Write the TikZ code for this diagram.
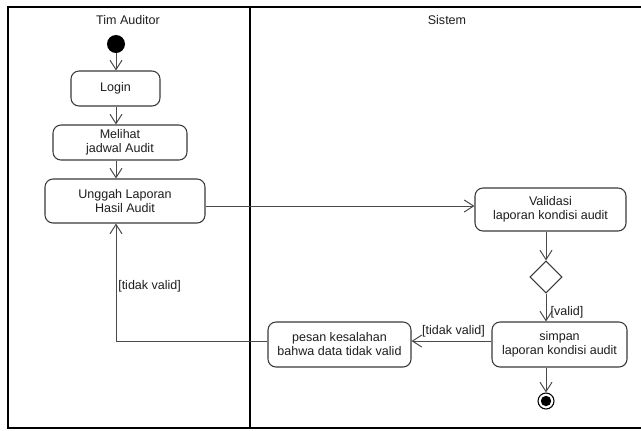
\documentclass[tikz,border=0pt]{standalone}
\usepackage{fontspec}
\setmainfont{Liberation Sans}
\usetikzlibrary{arrows.meta,shapes.geometric}
\definecolor{boxgray}{HTML}{3A3A3A}
\definecolor{linegray}{HTML}{4A4A4A}
\definecolor{txt}{HTML}{1E1E1E}
\begin{document}
\begin{tikzpicture}[x=0.75pt,y=-0.75pt,
  font=\fontsize{9.4}{10.5}\selectfont,
  lane/.style={draw=black, line width=0.9pt},
  act/.style={draw=boxgray, rounded corners=6pt, line width=0.8pt,
    align=center, inner sep=0pt, text=txt},
  flow/.style={draw=linegray, line width=0.75pt,
    -{Straight Barb[length=7pt,width=9pt]}},
  guard/.style={text=txt, inner sep=0pt},
  startnode/.style={circle, fill=black, minimum size=13.5pt, inner sep=0pt},
  endnode/.style={circle, draw=black, line width=0.8pt, minimum size=12pt, inner sep=0pt},
  choice/.style={diamond, draw=boxgray, line width=0.8pt, minimum width=24pt,
    minimum height=24pt, inner sep=0pt, aspect=1}
]
\useasboundingbox (0,0) rectangle (641,430);
\fill[white] (0,0) rectangle (641,430);

% swimlanes
\draw[lane] (641,7) -- (8,7) -- (8,428) -- (641,428);
\draw[lane] (250,7) -- (250,428);
\node[text=txt] (laneA) at (128,20) {Tim Auditor};
\node[text=txt] (laneB) at (447,20) {Sistem};

% activities
\node[startnode] (init) at (116,44) {};
\node[act, minimum width=66.75pt, minimum height=26.25pt] (login) at (115.5,88.5) {Login};
\node[act, minimum width=100.5pt, minimum height=26.25pt] (lihat) at (120,142.5) {Melihat\\jadwal Audit};
\node[act, minimum width=120pt, minimum height=33pt] (unggah) at (125,201) {Unggah Laporan\\Hasil Audit};
\node[act, minimum width=113.25pt, minimum height=32.25pt] (validasi) at (550.5,209.5) {Validasi\\laporan kondisi audit};
\node[choice] (dec) at (546,277) {};
\node[act, minimum width=101.25pt, minimum height=33.75pt] (simpan) at (559.5,344.5) {simpan\\laporan kondisi audit};
\node[act, minimum width=107.25pt, minimum height=33.75pt] (pesan) at (339.5,344.5) {pesan kesalahan\\bahwa data tidak valid};
\node[endnode] (fin) at (546,401) {};
\fill[black] (fin.center) circle (3.9pt);
\coordinate (col) at (116,0);

% control flow
\draw[flow] (init.south) -- (init.south |- login.north);
\draw[flow] (login.south -| col) -- (lihat.north -| col);
\draw[flow] (lihat.south -| col) -- (unggah.north -| col);
\draw[flow] ([yshift=-3.75pt]unggah.east) -- ([yshift=-3.75pt]unggah.east -| validasi.west);
\draw[flow] (dec.north |- validasi.south) -- (dec.north);
\draw[flow] (dec.south) -- (dec.south |- simpan.north);
\draw[flow] ([yshift=2.6pt]simpan.west) -- ([yshift=2.6pt]simpan.west -| pesan.east);
\draw[flow] ([yshift=2.6pt]pesan.west) -| (unggah.south -| col);
\draw[flow] (dec.south |- simpan.south) -- (fin.north);

% guards
\node[guard, anchor=west] (g1) at (118,286) {[tidak valid]};
\node[guard] (g2) at (453.5,331) {[tidak valid]};
\node[guard] (g3) at (567,312) {[valid]};
\end{tikzpicture}
\end{document}
